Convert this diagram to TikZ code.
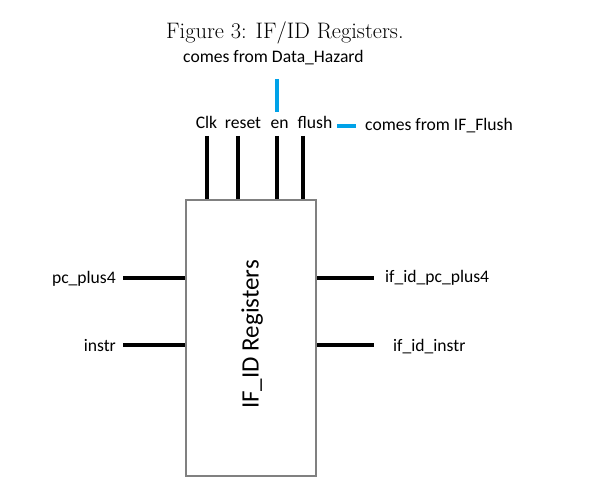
\documentclass[tikz,border=0pt]{standalone}
\usepackage{fontspec}
\newfontfamily\calibri{Carlito}
\definecolor{boxgray}{RGB}{128,128,128}
\definecolor{sigblue}{RGB}{0,162,232}
\tikzset{
  lbl/.style={inner sep=0pt, font=\calibri\fontsize{17.6bp}{20bp}\selectfont},
  sig/.style={line width=4bp, black},
  bluesig/.style={line width=3.5bp, sigblue},
  regbox/.style={draw=boxgray, line width=2bp, minimum width=130bp, minimum height=276bp, inner sep=0pt, anchor=north west}
}
\begin{document}
\begin{tikzpicture}[x=1bp,y=-1bp]
\useasboundingbox (0,0) rectangle (593,490);
% caption
\node[inner sep=0pt, anchor=base west, font=\fontsize{22.4bp}{25bp}\selectfont] (cap) at (166,38.3) {Figure 3: IF/ID Registers.};
% box
\node[regbox] (reg) at (185,199) {};
\node[lbl, rotate=90, anchor=base, font=\calibri\fontsize{25bp}{28bp}\selectfont] (regname) at (258.5,334.5) {IF\_ID Registers};
% top labels
\node[lbl, anchor=base] (clk) at (206.5,128.3) {Clk};
\node[lbl, anchor=base] (reset) at (243,128.3) {reset};
\node[lbl, anchor=base] (en) at (279.5,128.3) {en};
\node[lbl, anchor=base] (flush) at (315,128.3) {flush};
\node[lbl, anchor=base west] (dh) at (183,62.8) {comes from Data\_Hazard};
\node[lbl, anchor=base west] (iff) at (365,130.5) {comes from IF\_Flush};
% top signal stubs
\coordinate (clkT) at (207,136);
\coordinate (resetT) at (238,136);
\coordinate (enT) at (277,136);
\coordinate (flushT) at (303,136);
\draw[sig] (clkT) -- (clkT |- reg.north);
\draw[sig] (resetT) -- (resetT |- reg.north);
\draw[sig] (enT) -- (enT |- reg.north);
\draw[sig] (flushT) -- (flushT |- reg.north);
% blue lines
\coordinate (enB1) at (277,79);
\coordinate (enB2) at (277,112);
\draw[bluesig] (enB1) -- (enB2);
\coordinate (flB1) at (337,126);
\coordinate (flB2) at (356,126);
\draw[bluesig] (flB1) -- (flB2);
% left inputs
\node[lbl, anchor=base east] (pcp4) at (116,283.3) {pc\_plus4};
\node[lbl, anchor=base east] (instr) at (116,351) {instr};
\coordinate (pcL) at (123,278);
\coordinate (inL) at (123,345);
\draw[sig] (pcL) -- (pcL -| reg.west);
\draw[sig] (inL) -- (inL -| reg.west);
% right outputs
\node[lbl, anchor=base west] (ifpc) at (385,282.7) {if\_id\_pc\_plus4};
\node[lbl, anchor=base west] (ifin) at (393,351) {if\_id\_instr};
\coordinate (pcR) at (374,278);
\coordinate (inR) at (374,345);
\draw[sig] (pcR -| reg.east) -- (pcR);
\draw[sig] (inR -| reg.east) -- (inR);
\end{tikzpicture}
\end{document}
